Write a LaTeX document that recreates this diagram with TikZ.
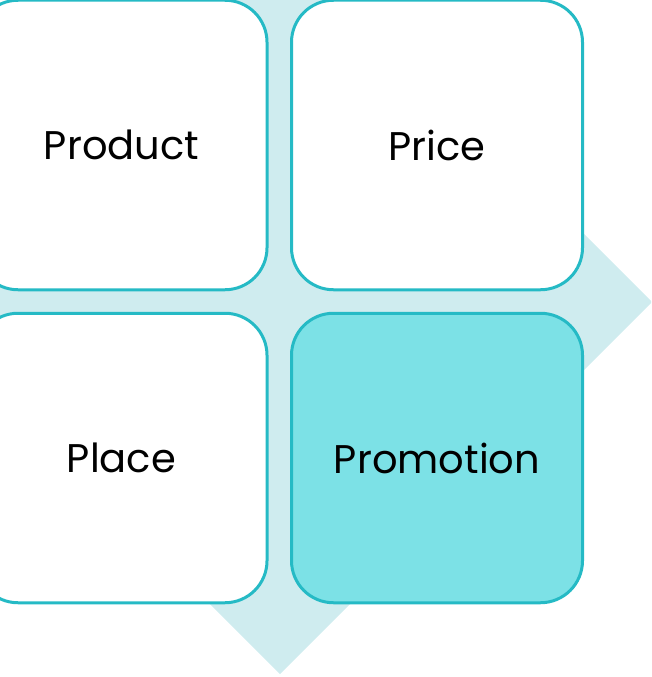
\documentclass[tikz,border=0pt]{standalone}
\usepackage{fontspec}
\setmainfont{Poppins}
\usetikzlibrary{positioning}
\definecolor{MixTeal}{RGB}{37,186,197}
\definecolor{MixAqua}{RGB}{124,225,230}
\definecolor{MixHaze}{RGB}{207,236,239}

\begin{document}
\begin{tikzpicture}[x=1pt,y=-1pt,
  box/.style={rectangle,draw=MixTeal,line width=3pt,rounded corners=42pt,fill=white,
    minimum width=291pt,minimum height=289.5pt,inner sep=0pt,font=\fontsize{40}{46}\selectfont}
]
  \useasboundingbox (0,0) rectangle (651,677);
  \clip (0,0) rectangle (651,677);
  % diamond behind the grid
  \fill[MixHaze] (280,-70) -- (652,302) -- (280,674) -- (-92,302) -- cycle;
  % the four P's
  \node[box] (product) at (121.5,145) {Product};
  \node[box] (price) at (437,145) {Price};
  \node[box] (place) at (121.5,458) {Place};
  \node[box,fill=MixAqua] (promotion) at (437,458) {Promotion};
\end{tikzpicture}
\end{document}
